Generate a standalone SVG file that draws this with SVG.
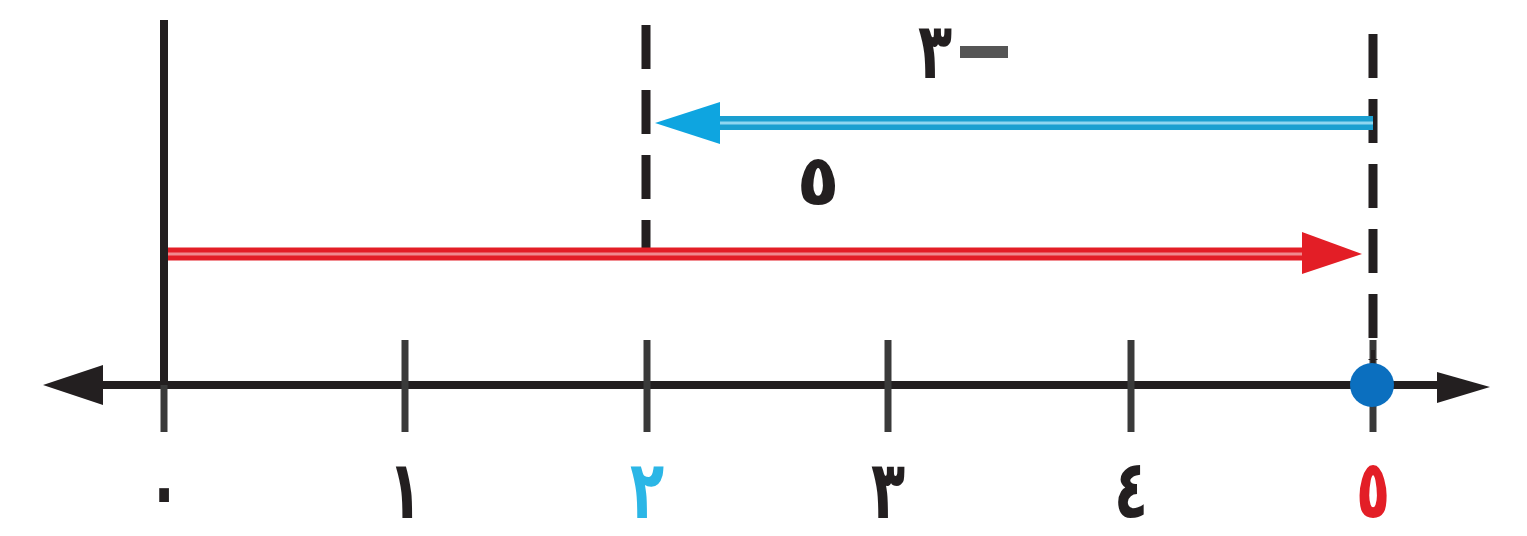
<svg xmlns="http://www.w3.org/2000/svg" width="1527" height="536" viewBox="0 0 1527 536">
<style>
.lbl{font-family:"DejaVu Sans","Noto Sans",sans-serif;font-weight:bold;font-size:56px;text-anchor:middle}
.blk{fill:#231f20}
.tick{stroke:#3a3a3a;stroke-width:7}
.dash{stroke:#231f20;stroke-width:9;stroke-dasharray:44 21;fill:none}
</style>
<rect width="1527" height="536" fill="#ffffff"/>
<g id="axis">
<line x1="95" y1="385" x2="1445" y2="385" stroke="#231f20" stroke-width="8"/>
<polygon points="43,385 103,365 103,405" fill="#231f20"/>
<polygon points="1490,387 1437,372 1437,403" fill="#231f20"/>
</g>
<g id="ticks">
<line class="tick" x1="164" y1="340" x2="164" y2="432"/>
<line class="tick" x1="405" y1="340" x2="405" y2="432"/>
<line class="tick" x1="647" y1="340" x2="647" y2="432"/>
<line class="tick" x1="888" y1="340" x2="888" y2="432"/>
<line class="tick" x1="1131" y1="340" x2="1131" y2="432"/>
<line class="tick" x1="1373" y1="340" x2="1373" y2="432"/>
</g>
<g id="guides">
<line x1="164" y1="20" x2="164" y2="385" stroke="#231f20" stroke-width="8"/>
<line class="dash" x1="646" y1="25" x2="646" y2="256"/>
<line class="dash" x1="1373" y1="34" x2="1373" y2="360"/>
<line x1="1373" y1="350" x2="1373" y2="385" stroke="#231f20" stroke-width="4"/>
</g>
<g id="connectors">
<g id="red-arrow">
<line x1="168" y1="254" x2="1310" y2="254" stroke="#e31e26" stroke-width="13"/>
<line x1="168" y1="254" x2="1310" y2="254" stroke="#f08a8e" stroke-width="3"/>
<polygon points="1362,254 1302,232 1302,274" fill="#e31e26"/>
</g>
<g id="blue-arrow">
<line x1="1373" y1="123" x2="712" y2="123" stroke="#1b9fd0" stroke-width="14"/>
<line x1="1373" y1="123" x2="712" y2="123" stroke="#8fd6f0" stroke-width="3"/>
<polygon points="655,123 720,102 720,144" fill="#0ea5e0"/>
</g>
</g>
<g id="point">
<circle cx="1372" cy="385" r="22" fill="#0b6fbf"/>
</g>
<g id="labels">
<text class="lbl blk" transform="translate(935,78) scale(1,1.4)">٣</text>
<rect x="960" y="46" width="48" height="12" fill="#555555"/>
<text class="lbl blk" transform="translate(818,205)" style="font-size:70px">٥</text>
<text class="lbl blk" transform="translate(164,518) scale(1,1.45)">٠</text>
<text class="lbl blk" transform="translate(405,518) scale(1,1.45)">١</text>
<text class="lbl" transform="translate(647,518) scale(1,1.45)" fill="#2bb6e6">٢</text>
<text class="lbl blk" transform="translate(888,518) scale(1,1.45)">٣</text>
<text class="lbl blk" transform="translate(1131,518) scale(1,1.45)">٤</text>
<text class="lbl" transform="translate(1373,518) scale(1,1.45)" fill="#e31e26">٥</text>
</g>
</svg>
